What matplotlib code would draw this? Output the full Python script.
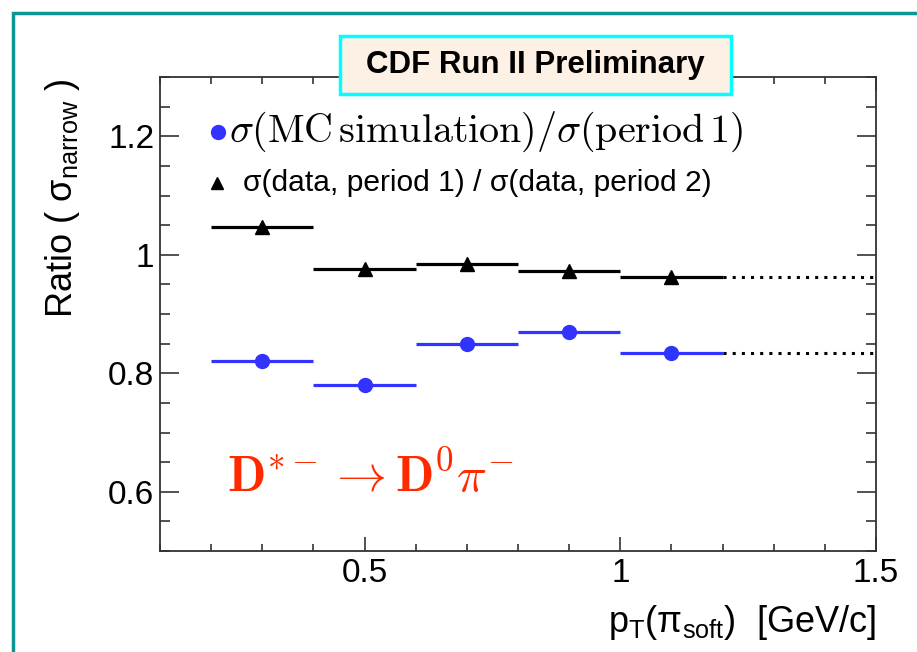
import matplotlib
matplotlib.use("Agg")
import matplotlib.pyplot as plt
from matplotlib.patches import Rectangle
from matplotlib.ticker import MultipleLocator, FuncFormatter

# pT(pi_soft) bins [GeV/c]
bin_lo = [0.2, 0.4, 0.6, 0.8, 1.0]
bin_hi = [0.4, 0.6, 0.8, 1.0, 1.2]
bin_mid = [0.3, 0.5, 0.7, 0.9, 1.1]

# sigma_narrow ratios per bin
ratio_mc = [0.821, 0.781, 0.849, 0.869, 0.834]     # MC / period 1
ratio_data = [1.047, 0.976, 0.985, 0.973, 0.963]   # period 1 / period 2

# last bin carried on to the end of the range
extend_to = 1.5

plt.rcParams["font.family"] = ["Liberation Sans", "DejaVu Sans"]
plt.rcParams["mathtext.fontset"] = "custom"
plt.rcParams["mathtext.rm"] = "Liberation Sans"
plt.rcParams["mathtext.it"] = "Liberation Sans:italic"
plt.rcParams["mathtext.bf"] = "Liberation Sans:bold"

fig = plt.figure(figsize=(9.17, 6.52), dpi=100)
ax = fig.add_axes([160 / 917, 1 - 551 / 652, 716 / 917, 474 / 652])

blue = "#3333ff"

# horizontal bin bars
ax.hlines(ratio_data, bin_lo, bin_hi, color="black", lw=2.3, zorder=3)
ax.hlines(ratio_mc, bin_lo, bin_hi, color=blue, lw=2.3, zorder=3)
ax.plot(bin_mid, ratio_data, "^", color="black", ms=9.5, zorder=4)
ax.plot(bin_mid, ratio_mc, "o", color=blue, ms=10, zorder=4)

# dotted continuation of the last bin
ax.hlines(ratio_data[-1], bin_hi[-1], extend_to, color="black", lw=2.2,
          linestyles=(0, (1, 2)), zorder=3)
ax.hlines(ratio_mc[-1], bin_hi[-1], extend_to, color="black", lw=2.2,
          linestyles=(0, (1, 2)), zorder=3)

ax.set_xlim(0.1, 1.5)
ax.set_ylim(0.5, 1.3)
ax.xaxis.set_major_locator(MultipleLocator(0.5))
ax.xaxis.set_minor_locator(MultipleLocator(0.1))
ax.yaxis.set_major_locator(MultipleLocator(0.2))
ax.yaxis.set_minor_locator(MultipleLocator(0.05))
fmt = FuncFormatter(lambda v, p: "%g" % round(v, 2))
ax.xaxis.set_major_formatter(fmt)
ax.yaxis.set_major_formatter(fmt)

for s in ax.spines.values():
    s.set_color("#333333")
    s.set_linewidth(1.3)
ax.tick_params(axis="both", which="both", direction="in", top=True,
               right=True, color="#333333", width=1.2, labelsize=24)
ax.tick_params(axis="y", which="major", length=14, pad=4)
ax.tick_params(axis="y", which="minor", length=7)
ax.tick_params(axis="x", which="major", length=10, pad=5)
ax.tick_params(axis="x", which="minor", length=5)

ax.set_xlabel(r"p$_{\mathregular{T}}$(π$_{\mathregular{soft}}$)  [GeV/c]",
              fontsize=26, ha="right", x=1.0)
ax.set_ylabel(r"Ratio ( σ$_{\mathregular{narrow}}$ )", fontsize=26,
              ha="right", y=1.0)
ax.yaxis.set_label_coords(-0.109, 0.997)
ax.xaxis.set_label_coords(1.0, -0.11)

# legend entries
ax.plot([0.081], [0.884], "o", color=blue, ms=10, transform=ax.transAxes,
        clip_on=False)
ax.text(0.097, 0.884, r"$\sigma(\mathrm{MC\,simulation})/\sigma(\mathrm{period\,1})$",
        transform=ax.transAxes, fontsize=28.8, va="center", ha="left",
        math_fontfamily="cm")
ax.plot([0.080], [0.776], "^", color="black", ms=8, transform=ax.transAxes,
        clip_on=False)
ax.text(0.116, 0.776, "σ(data, period 1) / σ(data, period 2)",
        transform=ax.transAxes, fontsize=21.6, va="center", ha="left")

# decay channel
ax.text(0.093, 0.125, r"$\mathbf{D}^{*-}\rightarrow\mathbf{D}^{\mathbf{0}}\pi^{-}$",
        transform=ax.transAxes, fontsize=36, color="#ff2a00", ha="left",
        va="baseline", math_fontfamily="cm")

# preliminary banner
fig.add_artist(Rectangle((340 / 917, 1 - 94 / 652), 391 / 917, 58 / 652,
                         transform=fig.transFigure, fc="#fdf1e6",
                         ec="#00ffff", lw=2.5, zorder=10))
fig.text(535.5 / 917, 1 - 65 / 652, "CDF Run II Preliminary", fontsize=22.5,
         fontweight="bold", ha="center", va="center", zorder=11)

# slide frame
fig.add_artist(Rectangle((13 / 917, -0.1), 1.2, 1.1 - 13 / 652,
                         transform=fig.transFigure, fill=False,
                         ec="#0e9494", lw=2.5, zorder=12))

fig.savefig("out.png", dpi=100)
